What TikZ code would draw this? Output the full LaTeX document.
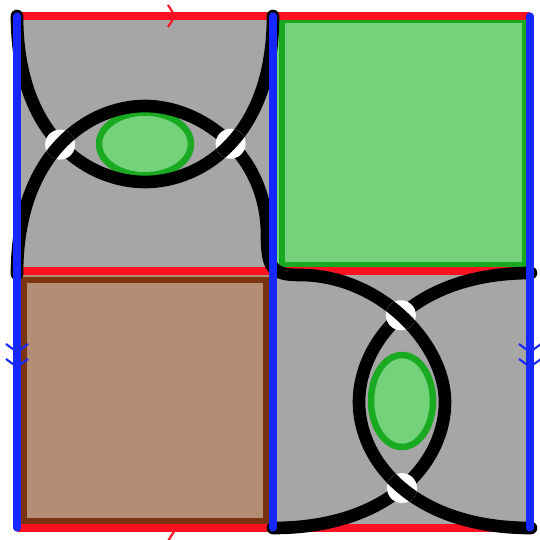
\documentclass[tikz,border=0pt]{standalone}
\usepackage{tikz}
\usetikzlibrary{intersections}

\definecolor{edgered}{RGB}{255,17,34}
\definecolor{edgeblue}{RGB}{20,40,255}
\definecolor{cellgrey}{RGB}{166,166,166}
\definecolor{leafgreen}{RGB}{116,210,122}
\definecolor{darkgreen}{RGB}{26,170,34}
\definecolor{clayfill}{RGB}{181,141,116}
\definecolor{clayedge}{RGB}{123,52,17}

% the three strands (pixel units, y downwards)
\newcommand{\strandA}{(17,16) .. controls (17,138) and (90,182) .. (145,182)
  .. controls (200,182) and (273,138) .. (273,16)}
\newcommand{\strandBC}{(17,274) .. controls (17,152) and (90,106) .. (145,106)
  .. controls (200,106) and (267,153) .. (267,235)
  .. controls (267,268) and (272,275) .. (300,275)
  .. controls (380,275) and (445,344) .. (445,402)
  .. controls (445,460) and (392,528) .. (273,528)}
\newcommand{\strandD}{(531,273) .. controls (412,273) and (359,344) .. (359,402)
  .. controls (359,460) and (412,528) .. (531,528)}

\begin{document}
\begin{tikzpicture}[x=0.02cm,y=-0.02cm,
  strand/.style={line width=7.2pt,line cap=round},
  redline/.style={edgered,line width=4pt},
  blueline/.style={edgeblue,line width=4pt,line cap=round},
  chev/.style={line width=1.2pt}]
  \useasboundingbox (0,0) rectangle (539,540);
  % cells
  \fill[cellgrey] (17,16) rectangle (273,271);
  \fill[cellgrey] (273,271) rectangle (530,528);
  \draw[chev,edgered] (168,519) -- (175,530) -- (168,541);
  \fill[leafgreen] (273,16) rectangle (530,271);
  \draw[darkgreen,line width=3.4pt] (282,20) rectangle (525,265);
  \fill[clayfill] (17,271) rectangle (273,528);
  \draw[clayedge,line width=3.6pt] (24,280) rectangle (266,521);
  % lenses
  \filldraw[fill=leafgreen,draw=darkgreen,line width=3.7pt]
    (145,144) ellipse [x radius=46,y radius=31.5];
  \filldraw[fill=leafgreen,draw=darkgreen,line width=3.7pt]
    (402,401) ellipse [x radius=31,y radius=46];
  % red edges
  \draw[redline] (17,16) -- (530,16);
  \draw[redline] (17,271) -- (530,271);
  \draw[redline] (17,528) -- (530,528);
  \draw[chev,edgered] (168,5) -- (175,16) -- (168,27);
  % strands and crossings
  \draw[strand,name path=A] \strandA;
  \draw[strand,name path=BC] \strandBC;
  \draw[strand,name path=D] \strandD;
  \path[name intersections={of=A and BC,sort by=A,name=p}];
  \path[name intersections={of=BC and D,sort by=D,name=q}];
  \foreach \c/\over in {p-1/\strandBC,p-2/\strandA,q-1/\strandBC,q-2/\strandD}{
    \fill[white] (\c) circle [radius=15];
    \begin{scope}
      \clip (\c) circle [radius=15];
      \draw[strand] \over;
    \end{scope}
  }
  % blue edges
  \foreach \x in {17,273,530}
    \draw[blueline] (\x,16) -- (\x,528);
  \foreach \x in {17,530}
    \foreach \y in {352,367}
      \draw[chev,edgeblue] (\x-11,\y-8) -- (\x,\y) -- (\x+11,\y-8);
\end{tikzpicture}
\end{document}
